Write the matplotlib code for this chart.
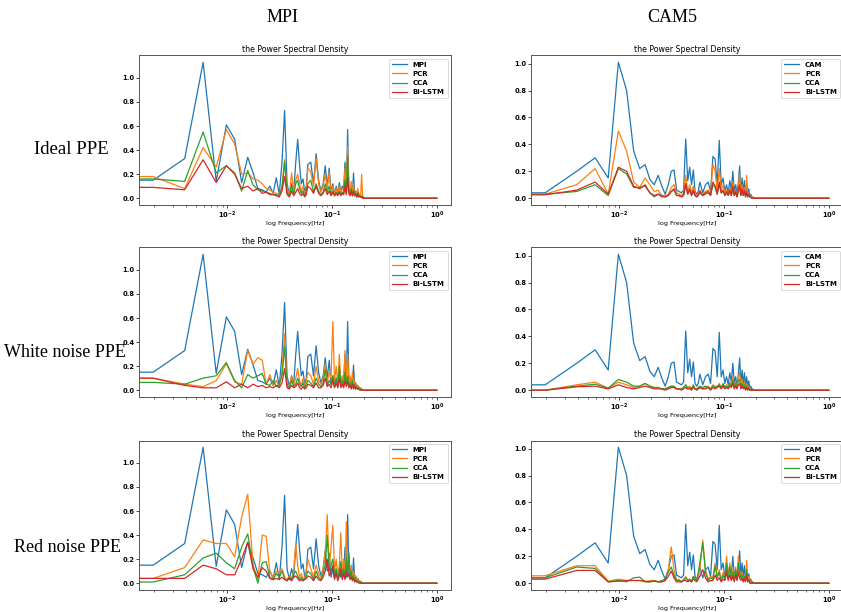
import numpy as np
import matplotlib
matplotlib.use("Agg")
import matplotlib.pyplot as plt

# Frequency bins (bin width 1/512 Hz): every bin up to 30, every second bin up to 104
BINS = list(range(0, 31)) + list(range(32, 105, 2))
TAIL_BINS = [106, 512]
TAIL_PSD = [0.0, 0.0]
BIN_WIDTH = 1.0 / 512

MODELS = ["PCR", "CCA", "Bi-LSTM"]
COLUMNS = ["MPI", "CAM5"]
TRUTH_LABELS = ["MPI", "CAM"]
ROWS = ["Ideal PPE", "White noise PPE", "Red noise PPE"]

# Reference model spectra
MPI_TRUTH = [0.15, 0.15, 0.33, 1.13, 0.14, 0.61, 0.49, 0.13, 0.34, 0.21, 0.08, 0.07, 0.05, 0.10, 0.04, 0.17, 0.03, 0.30, 0.73, 0.12, 0.03, 0.12, 0.05, 0.30, 0.49, 0.28, 0.12, 0.16, 0.05, 0.10, 0.28,
             0.30, 0.12, 0.37, 0.15, 0.06, 0.12, 0.27, 0.10, 0.25, 0.05, 0.12, 0.03, 0.10, 0.04, 0.13, 0.05, 0.10, 0.08, 0.30, 0.05, 0.57, 0.08, 0.05, 0.10, 0.04, 0.21, 0.03, 0.06, 0.02, 0.04, 0.01, 0.02, 0.01, 0.01, 0.0, 0.0, 0.0]
CAM_TRUTH = [0.04, 0.04, 0.20, 0.30, 0.15, 1.01, 0.80, 0.35, 0.22, 0.25, 0.14, 0.10, 0.17, 0.09, 0.03, 0.10, 0.20, 0.21, 0.06, 0.05, 0.04, 0.06, 0.44, 0.13, 0.23, 0.10, 0.21, 0.05, 0.03, 0.05, 0.12,
             0.04, 0.10, 0.12, 0.05, 0.31, 0.29, 0.10, 0.43, 0.10, 0.15, 0.05, 0.10, 0.04, 0.13, 0.06, 0.20, 0.05, 0.10, 0.03, 0.12, 0.24, 0.05, 0.15, 0.04, 0.13, 0.03, 0.10, 0.02, 0.07, 0.02, 0.03, 0.01, 0.01, 0.0, 0.0, 0.0, 0.0]

# Downscaled spectra, ideal PPE
MPI_IDEAL_PCR = [0.18, 0.18, 0.08, 0.42, 0.26, 0.57, 0.45, 0.20, 0.21, 0.16, 0.15, 0.12, 0.08, 0.07, 0.05, 0.04, 0.03, 0.10, 0.32, 0.08, 0.03, 0.21, 0.05, 0.15, 0.20, 0.12, 0.05, 0.10, 0.03, 0.06, 0.25,
                 0.22, 0.10, 0.33, 0.12, 0.05, 0.10, 0.20, 0.08, 0.22, 0.04, 0.10, 0.03, 0.08, 0.04, 0.10, 0.05, 0.08, 0.06, 0.25, 0.05, 0.43, 0.06, 0.04, 0.14, 0.03, 0.12, 0.03, 0.05, 0.02, 0.08, 0.02, 0.04, 0.03, 0.20, 0.02, 0.01, 0.0]
MPI_IDEAL_CCA = [0.16, 0.16, 0.14, 0.55, 0.21, 0.27, 0.21, 0.06, 0.23, 0.11, 0.07, 0.06, 0.05, 0.04, 0.03, 0.03, 0.02, 0.08, 0.30, 0.05, 0.02, 0.10, 0.03, 0.12, 0.15, 0.08, 0.04, 0.06, 0.02, 0.05, 0.12,
                 0.15, 0.05, 0.12, 0.06, 0.03, 0.05, 0.12, 0.05, 0.10, 0.03, 0.06, 0.02, 0.05, 0.03, 0.06, 0.03, 0.05, 0.04, 0.15, 0.04, 0.35, 0.05, 0.03, 0.08, 0.02, 0.07, 0.02, 0.04, 0.01, 0.05, 0.01, 0.02, 0.01, 0.02, 0.01, 0.0, 0.0]
MPI_IDEAL_LSTM = [0.09, 0.09, 0.07, 0.32, 0.13, 0.27, 0.20, 0.08, 0.10, 0.06, 0.08, 0.04, 0.05, 0.03, 0.03, 0.02, 0.01, 0.06, 0.18, 0.03, 0.01, 0.06, 0.02, 0.05, 0.08, 0.04, 0.02, 0.04, 0.01, 0.03, 0.10,
                  0.08, 0.04, 0.10, 0.04, 0.02, 0.04, 0.08, 0.03, 0.06, 0.02, 0.05, 0.02, 0.04, 0.02, 0.05, 0.02, 0.04, 0.03, 0.10, 0.03, 0.17, 0.04, 0.02, 0.06, 0.02, 0.05, 0.02, 0.03, 0.01, 0.03, 0.01, 0.02, 0.01, 0.01, 0.0, 0.0, 0.0]
CAM_IDEAL_PCR = [0.03, 0.03, 0.10, 0.22, 0.03, 0.50, 0.35, 0.12, 0.08, 0.15, 0.10, 0.05, 0.06, 0.02, 0.02, 0.03, 0.08, 0.10, 0.04, 0.03, 0.02, 0.04, 0.17, 0.05, 0.10, 0.04, 0.09, 0.03, 0.02, 0.03, 0.06,
                 0.03, 0.05, 0.06, 0.03, 0.25, 0.20, 0.05, 0.22, 0.06, 0.10, 0.04, 0.06, 0.03, 0.08, 0.04, 0.12, 0.03, 0.06, 0.02, 0.08, 0.18, 0.03, 0.10, 0.03, 0.08, 0.02, 0.17, 0.02, 0.04, 0.01, 0.02, 0.01, 0.01, 0.0, 0.0, 0.0, 0.0]
CAM_IDEAL_CCA = [0.03, 0.03, 0.05, 0.10, 0.02, 0.22, 0.18, 0.08, 0.08, 0.09, 0.04, 0.01, 0.03, 0.02, 0.01, 0.02, 0.05, 0.06, 0.02, 0.02, 0.01, 0.02, 0.10, 0.03, 0.06, 0.02, 0.05, 0.02, 0.01, 0.02, 0.04,
                 0.02, 0.03, 0.04, 0.02, 0.10, 0.08, 0.03, 0.10, 0.04, 0.05, 0.02, 0.04, 0.02, 0.05, 0.02, 0.07, 0.02, 0.04, 0.01, 0.05, 0.08, 0.02, 0.06, 0.02, 0.05, 0.01, 0.04, 0.01, 0.02, 0.01, 0.01, 0.0, 0.0, 0.0, 0.0, 0.0, 0.0]
CAM_IDEAL_LSTM = [0.025, 0.025, 0.06, 0.12, 0.03, 0.23, 0.20, 0.09, 0.07, 0.10, 0.04, 0.02, 0.03, 0.01, 0.01, 0.02, 0.05, 0.07, 0.02, 0.02, 0.01, 0.02, 0.11, 0.03, 0.07, 0.02, 0.06, 0.02, 0.01, 0.02, 0.05,
                  0.02, 0.04, 0.05, 0.02, 0.12, 0.09, 0.03, 0.12, 0.04, 0.06, 0.02, 0.05, 0.02, 0.06, 0.02, 0.09, 0.02, 0.05, 0.01, 0.06, 0.10, 0.02, 0.07, 0.02, 0.06, 0.01, 0.05, 0.01, 0.03, 0.01, 0.01, 0.0, 0.0, 0.0, 0.0, 0.0, 0.0]

# Downscaled spectra, white noise PPE
MPI_WHITE_PCR = [0.10, 0.10, 0.05, 0.03, 0.08, 0.22, 0.07, 0.05, 0.33, 0.22, 0.27, 0.25, 0.05, 0.13, 0.04, 0.08, 0.03, 0.15, 0.47, 0.05, 0.03, 0.12, 0.04, 0.10, 0.18, 0.08, 0.04, 0.10, 0.03, 0.08, 0.15,
                 0.12, 0.05, 0.20, 0.08, 0.05, 0.10, 0.22, 0.06, 0.15, 0.10, 0.57, 0.08, 0.20, 0.05, 0.30, 0.06, 0.12, 0.04, 0.33, 0.08, 0.30, 0.05, 0.12, 0.04, 0.15, 0.03, 0.08, 0.02, 0.05, 0.02, 0.03, 0.01, 0.02, 0.01, 0.0, 0.0, 0.0]
MPI_WHITE_CCA = [0.065, 0.065, 0.05, 0.10, 0.12, 0.23, 0.08, 0.02, 0.13, 0.10, 0.12, 0.14, 0.05, 0.04, 0.08, 0.03, 0.05, 0.12, 0.36, 0.04, 0.02, 0.08, 0.03, 0.05, 0.10, 0.05, 0.03, 0.06, 0.02, 0.05, 0.08,
                 0.06, 0.03, 0.10, 0.05, 0.03, 0.06, 0.17, 0.04, 0.08, 0.05, 0.12, 0.04, 0.10, 0.03, 0.20, 0.04, 0.08, 0.03, 0.15, 0.05, 0.12, 0.03, 0.06, 0.02, 0.08, 0.02, 0.05, 0.01, 0.03, 0.01, 0.02, 0.01, 0.01, 0.0, 0.0, 0.0, 0.0]
MPI_WHITE_LSTM = [0.10, 0.10, 0.04, 0.02, 0.02, 0.07, 0.02, 0.05, 0.02, 0.05, 0.03, 0.04, 0.02, 0.03, 0.02, 0.04, 0.02, 0.06, 0.18, 0.02, 0.01, 0.04, 0.02, 0.03, 0.06, 0.02, 0.01, 0.03, 0.01, 0.02, 0.05,
                  0.04, 0.02, 0.06, 0.02, 0.02, 0.04, 0.10, 0.03, 0.05, 0.02, 0.08, 0.02, 0.06, 0.02, 0.10, 0.02, 0.05, 0.02, 0.08, 0.03, 0.07, 0.02, 0.04, 0.01, 0.05, 0.01, 0.03, 0.01, 0.02, 0.01, 0.01, 0.0, 0.0, 0.0, 0.0, 0.0, 0.0]
CAM_WHITE_PCR = [0.0, 0.0, 0.04, 0.06, 0.015, 0.06, 0.04, 0.02, 0.03, 0.05, 0.03, 0.02, 0.02, 0.01, 0.01, 0.02, 0.03, 0.02, 0.01, 0.01, 0.01, 0.02, 0.04, 0.02, 0.03, 0.01, 0.03, 0.01, 0.01, 0.01, 0.02,
                 0.01, 0.02, 0.03, 0.01, 0.04, 0.03, 0.02, 0.05, 0.02, 0.04, 0.02, 0.04, 0.02, 0.06, 0.03, 0.10, 0.03, 0.06, 0.02, 0.10, 0.13, 0.03, 0.08, 0.02, 0.06, 0.01, 0.05, 0.01, 0.03, 0.01, 0.01, 0.0, 0.0, 0.0, 0.0, 0.0, 0.0]
CAM_WHITE_CCA = [0.0, 0.0, 0.03, 0.045, 0.015, 0.08, 0.06, 0.03, 0.03, 0.05, 0.03, 0.02, 0.02, 0.01, 0.01, 0.02, 0.03, 0.03, 0.01, 0.01, 0.01, 0.02, 0.04, 0.01, 0.02, 0.01, 0.04, 0.01, 0.01, 0.02, 0.03,
                 0.02, 0.03, 0.02, 0.01, 0.03, 0.02, 0.03, 0.04, 0.02, 0.05, 0.02, 0.03, 0.02, 0.05, 0.03, 0.07, 0.02, 0.05, 0.02, 0.07, 0.08, 0.02, 0.05, 0.02, 0.04, 0.01, 0.03, 0.01, 0.02, 0.0, 0.01, 0.0, 0.0, 0.0, 0.0, 0.0, 0.0]
CAM_WHITE_LSTM = [0.0, 0.0, 0.025, 0.03, 0.01, 0.04, 0.02, 0.01, 0.02, 0.03, 0.02, 0.01, 0.01, 0.01, 0.0, 0.01, 0.02, 0.02, 0.01, 0.01, 0.0, 0.01, 0.02, 0.01, 0.01, 0.0, 0.02, 0.01, 0.0, 0.01, 0.02,
                  0.01, 0.01, 0.02, 0.0, 0.02, 0.01, 0.02, 0.03, 0.01, 0.03, 0.01, 0.02, 0.01, 0.03, 0.02, 0.05, 0.01, 0.03, 0.01, 0.04, 0.05, 0.01, 0.03, 0.01, 0.02, 0.0, 0.02, 0.0, 0.01, 0.0, 0.0, 0.0, 0.0, 0.0, 0.0, 0.0, 0.0]

# Downscaled spectra, red noise PPE
MPI_RED_PCR = [0.04, 0.04, 0.13, 0.36, 0.33, 0.33, 0.22, 0.55, 0.74, 0.15, 0.03, 0.40, 0.39, 0.10, 0.05, 0.10, 0.08, 0.12, 0.05, 0.03, 0.06, 0.04, 0.10, 0.33, 0.15, 0.05, 0.08, 0.03, 0.05, 0.10, 0.20,
               0.12, 0.05, 0.15, 0.08, 0.05, 0.12, 0.25, 0.57, 0.12, 0.30, 0.48, 0.10, 0.20, 0.05, 0.15, 0.42, 0.08, 0.20, 0.05, 0.51, 0.12, 0.25, 0.05, 0.15, 0.04, 0.10, 0.03, 0.06, 0.02, 0.04, 0.01, 0.02, 0.01, 0.0, 0.0, 0.0, 0.0]
MPI_RED_CCA = [0.01, 0.01, 0.07, 0.21, 0.25, 0.17, 0.12, 0.30, 0.41, 0.13, 0.00, 0.17, 0.18, 0.05, 0.03, 0.08, 0.05, 0.10, 0.04, 0.02, 0.05, 0.03, 0.08, 0.10, 0.06, 0.03, 0.05, 0.02, 0.04, 0.06, 0.10,
               0.08, 0.03, 0.10, 0.05, 0.03, 0.08, 0.15, 0.40, 0.10, 0.15, 0.20, 0.06, 0.12, 0.03, 0.10, 0.18, 0.05, 0.12, 0.04, 0.20, 0.08, 0.25, 0.04, 0.10, 0.03, 0.06, 0.02, 0.04, 0.01, 0.02, 0.01, 0.01, 0.0, 0.0, 0.0, 0.0, 0.0]
MPI_RED_LSTM = [0.04, 0.04, 0.04, 0.15, 0.12, 0.07, 0.07, 0.20, 0.34, 0.12, 0.05, 0.13, 0.10, 0.04, 0.03, 0.04, 0.03, 0.05, 0.03, 0.02, 0.04, 0.02, 0.05, 0.06, 0.04, 0.02, 0.03, 0.02, 0.03, 0.04, 0.06,
                0.05, 0.02, 0.06, 0.03, 0.02, 0.05, 0.10, 0.20, 0.06, 0.10, 0.15, 0.04, 0.08, 0.02, 0.06, 0.12, 0.03, 0.08, 0.03, 0.10, 0.05, 0.08, 0.03, 0.05, 0.02, 0.04, 0.01, 0.02, 0.01, 0.01, 0.0, 0.0, 0.0, 0.0, 0.0, 0.0, 0.0]
CAM_RED_PCR = [0.055, 0.055, 0.13, 0.13, 0.015, 0.03, 0.02, 0.02, 0.02, 0.01, 0.02, 0.02, 0.01, 0.01, 0.02, 0.10, 0.27, 0.10, 0.02, 0.03, 0.01, 0.03, 0.05, 0.02, 0.03, 0.01, 0.05, 0.03, 0.02, 0.06, 0.10,
               0.32, 0.10, 0.03, 0.05, 0.04, 0.15, 0.05, 0.10, 0.02, 0.08, 0.03, 0.20, 0.05, 0.15, 0.03, 0.10, 0.02, 0.12, 0.03, 0.20, 0.10, 0.05, 0.08, 0.02, 0.06, 0.03, 0.17, 0.02, 0.05, 0.01, 0.02, 0.0, 0.0, 0.0, 0.0, 0.0, 0.0]
CAM_RED_CCA = [0.04, 0.04, 0.12, 0.11, 0.01, 0.02, 0.01, 0.04, 0.045, 0.01, 0.01, 0.02, 0.01, 0.02, 0.03, 0.08, 0.12, 0.06, 0.02, 0.02, 0.01, 0.02, 0.04, 0.02, 0.03, 0.01, 0.05, 0.03, 0.02, 0.08, 0.15,
               0.30, 0.08, 0.02, 0.04, 0.03, 0.13, 0.04, 0.08, 0.02, 0.06, 0.03, 0.15, 0.04, 0.12, 0.03, 0.08, 0.02, 0.10, 0.03, 0.15, 0.08, 0.04, 0.06, 0.02, 0.05, 0.02, 0.10, 0.02, 0.03, 0.01, 0.01, 0.0, 0.0, 0.0, 0.0, 0.0, 0.0]
CAM_RED_LSTM = [0.03, 0.03, 0.095, 0.095, 0.01, 0.015, 0.02, 0.02, 0.02, 0.015, 0.01, 0.015, 0.01, 0.01, 0.02, 0.05, 0.09, 0.04, 0.01, 0.01, 0.01, 0.02, 0.02, 0.01, 0.02, 0.01, 0.03, 0.02, 0.01, 0.03, 0.05,
                0.10, 0.04, 0.01, 0.02, 0.02, 0.06, 0.02, 0.04, 0.01, 0.03, 0.02, 0.08, 0.02, 0.06, 0.02, 0.05, 0.01, 0.06, 0.02, 0.08, 0.04, 0.02, 0.04, 0.01, 0.03, 0.01, 0.06, 0.01, 0.02, 0.0, 0.0, 0.0, 0.0, 0.0, 0.0, 0.0, 0.0]

TRUTH = [MPI_TRUTH, CAM_TRUTH]
PANELS = [
    [[MPI_IDEAL_PCR, MPI_IDEAL_CCA, MPI_IDEAL_LSTM], [CAM_IDEAL_PCR, CAM_IDEAL_CCA, CAM_IDEAL_LSTM]],
    [[MPI_WHITE_PCR, MPI_WHITE_CCA, MPI_WHITE_LSTM], [CAM_WHITE_PCR, CAM_WHITE_CCA, CAM_WHITE_LSTM]],
    [[MPI_RED_PCR, MPI_RED_CCA, MPI_RED_LSTM], [CAM_RED_PCR, CAM_RED_CCA, CAM_RED_LSTM]],
]

COLORS = ["#1f77b4", "#ff7f0e", "#2ca02c", "#d62728"]

freq = np.array(BINS + TAIL_BINS) * BIN_WIDTH


def spectrum(values):
    return np.array(list(values) + TAIL_PSD)


W, H = 841, 612
fig = plt.figure(figsize=(W / 100, H / 100), dpi=100)

col_left = [139, 531]
row_bottom = [205, 397, 590]
ax_w, ax_h = 312, 149.5

for r in range(3):
    for c in range(2):
        ax = fig.add_axes([col_left[c] / W, 1 - row_bottom[r] / H, ax_w / W, ax_h / H])
        ax.plot(freq, spectrum(TRUTH[c]), color=COLORS[0], lw=0.9, label=TRUTH_LABELS[c])
        for m, series in enumerate(PANELS[r][c]):
            ax.plot(freq, spectrum(series), color=COLORS[m + 1], lw=0.9, label=MODELS[m])
        ax.set_xscale("log")
        ax.set_title("the Power Spectral Density", fontsize=5.7, pad=2.5)
        ax.set_xlabel("log Frequency[Hz]", fontsize=4.6, labelpad=0.0)
        ax.set_yticks([0.0, 0.2, 0.4, 0.6, 0.8, 1.0])
        ax.tick_params(axis="both", which="major", labelsize=4.9, length=2.2, width=0.5, pad=1.2)
        ax.tick_params(axis="both", which="minor", length=1.3, width=0.4)
        for lbl in ax.get_xticklabels() + ax.get_yticklabels():
            lbl.set_fontweight("bold")
        for sp in ax.spines.values():
            sp.set_linewidth(0.7)
            sp.set_color("#555555")
        leg = ax.legend(loc="upper right", prop={"weight": "bold", "size": 5},
                        handlelength=2.2, borderaxespad=0.5, labelspacing=0.45,
                        framealpha=1.0)
        leg.get_frame().set_linewidth(0.5)

serif = ["Liberation Serif", "DejaVu Serif"]
fig.text(283 / W, 1 - 18 / H, COLUMNS[0], ha="center", va="center", fontsize=13, family=serif)
fig.text(672 / W, 1 - 18 / H, COLUMNS[1], ha="center", va="center", fontsize=13, family=serif)
row_y = [150, 353, 548]
row_x = [71, 65, 68]
row_size = [13.5, 13, 13]
for r in range(3):
    fig.text(row_x[r] / W, 1 - row_y[r] / H, ROWS[r], ha="center", va="center",
             fontsize=row_size[r], family=serif)

fig.savefig("out.png", dpi=100)
